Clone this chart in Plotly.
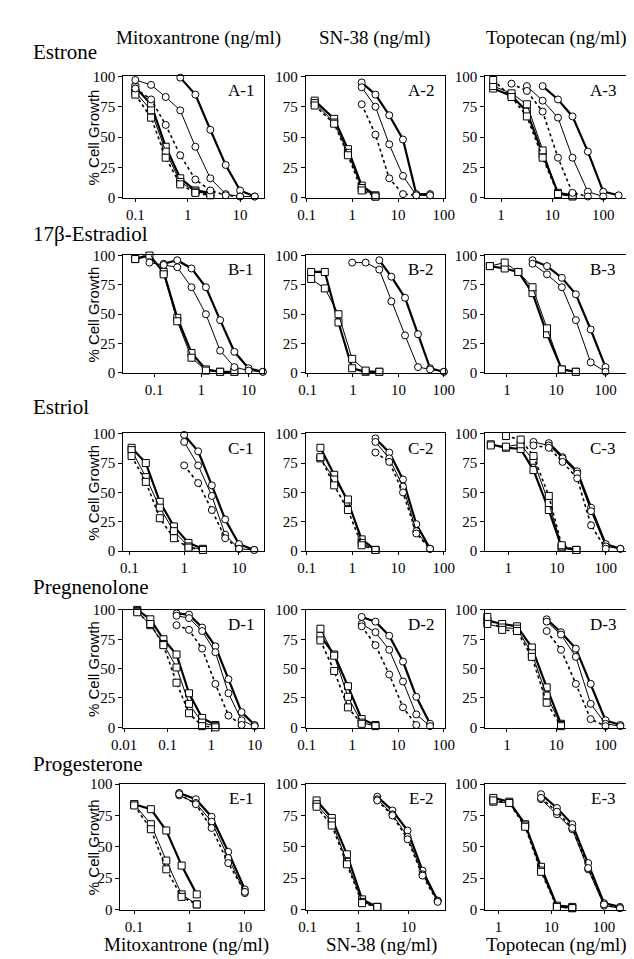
import math
import plotly.graph_objects as go

# ---------------- data (concentration, % cell growth) ----------------
# Row A: Estrone
A1_xs = [0.1, 0.2, 0.38, 0.72, 1.4, 2.7]
A1_sq1 = [91, 77, 42, 16, 6, 4]
A1_sq2 = [87, 72, 38, 13, 5, 3]
A1_sq3 = [85, 66, 33, 11, 4, 2]
A1_xc = [0.1, 0.2, 0.38, 0.72, 1.4, 2.7, 5.3, 10, 19]
A1_c1 = [None, None, None, 99, 85, 56, 27, 6, 1]
A1_c2 = [97, 93, 83, 72, 42, 16, 3, 1, 1]
A1_c3 = [90, 81, 60, 35, 15, 6, 2, 1, None]

A2_xs = [0.15, 0.4, 0.8, 1.6, 3.2]
A2_sq1 = [80, 65, 40, 10, 2]
A2_sq2 = [78, 62, 37, 8, 1]
A2_sq3 = [76, 61, 35, 6, 1]
A2_xc = [1.6, 3.2, 6.4, 12.8, 25, 50]
A2_c1 = [95, 85, 68, 48, 3, 3]
A2_c2 = [91, 75, 44, 18, 2, 2]
A2_c3 = [77, 52, 16, 3, 2, 2]

A3_xs = [0.7, 1.6, 3.2, 6.5, 13, 25]
A3_sq1 = [90, 84, 71, 36, 4, 2]
A3_sq2 = [92, 86, 77, 39, 3, 1]
A3_sq3 = [97, 83, 67, 33, 3, 2]
A3_xc = [1.6, 3.2, 6.5, 13, 25, 50, 100, 200]
A3_c1 = [None, None, 92, 81, 67, 38, 5, 2]
A3_c2 = [None, 92, 80, 66, 33, 5, 1, None]
A3_c3 = [94, 88, 71, 33, 4, 1, None, None]

# Row B: 17beta-Estradiol
B1_xs = [0.04, 0.08, 0.16, 0.31, 0.62, 1.25, 2.5, 5]
B1_sq1 = [97, 100, 86, 47, 17, 3, 1, 1]
B1_sq2 = [97, 102, 84, 44, 13, 2, 1, 1]
B1_xc = [0.08, 0.16, 0.31, 0.62, 1.25, 2.5, 5, 10, 20]
B1_c1 = [None, 93, 96, 89, 73, 45, 18, 4, 1]
B1_c2 = [94, 92, 90, 73, 50, 19, 5, 2, 1]

B2_xs = [0.12, 0.24, 0.48, 0.96, 1.9, 3.8]
B2_sq1 = [86, 86, 43, 4, 1, 1]
B2_sq2 = [80, 72, 50, 12, 2, 1]
B2_xc = [0.96, 1.9, 3.8, 7, 14, 27, 50, 100]
B2_c1 = [None, None, 96, 82, 64, 33, 4, 1]
B2_c2 = [94, 94, 88, 61, 32, 5, 3, 1]

B3_xs = [0.45, 0.9, 1.7, 3.3, 6.5, 13, 25]
B3_sq1 = [91, 89, 86, 68, 33, 3, 1]
B3_sq2 = [91, 94, 86, 73, 38, 3, 1]
B3_xc = [3.3, 6.5, 13, 25, 50, 100]
B3_c1 = [96, 91, 81, 67, 37, 5]
B3_c2 = [93, 84, 73, 45, 9, 1]

# Row C: Estriol
C1_xs = [0.11, 0.2, 0.36, 0.65, 1.2, 2.2]
C1_sq1 = [88, 75, 42, 21, 7, 2]
C1_sq2 = [86, 63, 37, 17, 4, 1]
C1_sq3 = [81, 59, 28, 11, 3, 1]
C1_xc = [1.0, 1.8, 3.2, 5.6, 10, 19]
C1_c1 = [99, 85, 56, 27, 6, 1]
C1_c2 = [93, 73, 47, 14, 2, 1]
C1_c3 = [73, 58, 35, 11, 2, None]

C2_xs = [0.2, 0.4, 0.8, 1.6, 3.2]
C2_sq1 = [88, 65, 42, 10, 1]
C2_sq2 = [79, 61, 44, 7, 1]
C2_sq3 = [80, 56, 35, 5, 1]
C2_xc = [3.2, 6.4, 12.8, 25, 50]
C2_c1 = [96, 84, 61, 23, 2]
C2_c2 = [93, 79, 55, 17, 2]
C2_c3 = [84, 76, 50, 15, 2]

C3_xs = [0.44, 0.9, 1.8, 3.3, 6.8, 12.5, 25]
C3_sq1 = [91, 88, 87, 69, 35, 3, 1]
C3_sq2 = [90, 89, 91, 77, 41, 4, 1]
C3_sq3 = [None, 98, 95, 81, 47, 5, 1]
C3_xc = [3.3, 6.8, 13, 26, 50, 100, 200]
C3_c1 = [None, 92, 80, 68, 37, 6, 2]
C3_c2 = [93, 90, 79, 66, 34, 4, 2]
C3_c3 = [90, 88, 76, 62, 22, 2, None]

# Row D: Pregnenolone
D1_xs = [0.02, 0.04, 0.08, 0.16, 0.31, 0.62, 1.25]
D1_sq1 = [100, 92, 75, 62, 29, 8, 2]
D1_sq2 = [99, 87, 71, 51, 20, 4, 1]
D1_sq3 = [98, 88, 70, 38, 12, 1, 0]
D1_xc = [0.16, 0.31, 0.62, 1.25, 2.5, 5, 10]
D1_c1 = [97, 96, 85, 69, 41, 13, 2]
D1_c2 = [95, 93, 82, 64, 29, 6, 1]
D1_c3 = [87, 83, 67, 37, 10, 2, None]

D2_xs = [0.2, 0.4, 0.8, 1.6, 3.2]
D2_sq1 = [78, 62, 35, 7, 2]
D2_sq2 = [84, 61, 26, 4, 1]
D2_sq3 = [74, 48, 17, 3, None]
D2_xc = [1.6, 3.2, 6.4, 12.8, 25, 50]
D2_c1 = [94, 90, 78, 56, 26, 3]
D2_c2 = [88, 81, 66, 39, 11, 1]
D2_c3 = [86, 70, 45, 17, 2, None]

D3_xs = [0.4, 0.8, 1.6, 3.2, 6.4, 12.5]
D3_sq1 = [91, 88, 86, 68, 34, 3]
D3_sq2 = [88, 85, 84, 63, 27, 2]
D3_sq3 = [94, 83, 82, 60, 21, 1]
D3_xc = [6.4, 12.5, 25, 50, 100, 200]
D3_c1 = [92, 81, 67, 37, 6, 2]
D3_c2 = [90, 79, 60, 20, 3, 1]
D3_c3 = [82, 66, 37, 7, 1, None]

# Row E: Progesterone
E1_xs = [0.1, 0.2, 0.38, 0.72, 1.35]
E1_sq1 = [84, 80, 63, 35, 12]
E1_sq2 = [84, 68, 39, 12, 4]
E1_sq3 = [83, 64, 32, 10, 4]
E1_xc = [0.65, 1.3, 2.5, 5, 10]
E1_c1 = [93, 88, 74, 46, 16]
E1_c2 = [91, 85, 70, 41, 13]
E1_c3 = [92, 84, 65, 37, 14]

E2_xs = [0.15, 0.3, 0.6, 1.2, 2.4]
E2_sq1 = [87, 73, 44, 8, 2]
E2_sq2 = [84, 70, 38, 6, 2]
E2_sq3 = [82, 67, 36, 5, 2]
E2_xc = [2.4, 4.8, 9.6, 19, 38]
E2_c1 = [90, 79, 63, 31, 7]
E2_c2 = [88, 76, 58, 28, 7]
E2_c3 = [87, 75, 56, 27, 6]

E3_xs = [0.8, 1.6, 3.2, 6.4, 12.8, 25]
E3_sq1 = [89, 86, 68, 34, 3, 2]
E3_sq2 = [86, 85, 67, 31, 2, 1]
E3_sq3 = [87, 85, 66, 30, 2, 1]
E3_xc = [6.4, 12.8, 25, 50, 100, 200]
E3_c1 = [92, 81, 68, 37, 5, 2]
E3_c2 = [88, 76, 64, 32, 3, 1]
E3_c3 = [89, 78, 65, 33, 4, 1]

ROW_LABELS = ["Estrone", "17\u03b2-Estradiol", "Estriol", "Pregnenolone", "Progesterone"]
COL_LABELS = ["Mitoxantrone (ng/ml)", "SN-38 (ng/ml)", "Topotecan (ng/ml)"]
Y_TICKS = [0, 25, 50, 75, 100]
X_TICKS = [0.01, 0.1, 1, 10, 100]
X_TICKTEXT = ["0.01", "0.1", "1", "10", "100"]

PANELS = [
    ("A-1", 0, 0, A1_xs, [A1_sq1, A1_sq2, A1_sq3], A1_xc, [A1_c1, A1_c2, A1_c3]),
    ("A-2", 0, 1, A2_xs, [A2_sq1, A2_sq2, A2_sq3], A2_xc, [A2_c1, A2_c2, A2_c3]),
    ("A-3", 0, 2, A3_xs, [A3_sq1, A3_sq2, A3_sq3], A3_xc, [A3_c1, A3_c2, A3_c3]),
    ("B-1", 1, 0, B1_xs, [B1_sq1, B1_sq2], B1_xc, [B1_c1, B1_c2]),
    ("B-2", 1, 1, B2_xs, [B2_sq1, B2_sq2], B2_xc, [B2_c1, B2_c2]),
    ("B-3", 1, 2, B3_xs, [B3_sq1, B3_sq2], B3_xc, [B3_c1, B3_c2]),
    ("C-1", 2, 0, C1_xs, [C1_sq1, C1_sq2, C1_sq3], C1_xc, [C1_c1, C1_c2, C1_c3]),
    ("C-2", 2, 1, C2_xs, [C2_sq1, C2_sq2, C2_sq3], C2_xc, [C2_c1, C2_c2, C2_c3]),
    ("C-3", 2, 2, C3_xs, [C3_sq1, C3_sq2, C3_sq3], C3_xc, [C3_c1, C3_c2, C3_c3]),
    ("D-1", 3, 0, D1_xs, [D1_sq1, D1_sq2, D1_sq3], D1_xc, [D1_c1, D1_c2, D1_c3]),
    ("D-2", 3, 1, D2_xs, [D2_sq1, D2_sq2, D2_sq3], D2_xc, [D2_c1, D2_c2, D2_c3]),
    ("D-3", 3, 2, D3_xs, [D3_sq1, D3_sq2, D3_sq3], D3_xc, [D3_c1, D3_c2, D3_c3]),
    ("E-1", 4, 0, E1_xs, [E1_sq1, E1_sq2, E1_sq3], E1_xc, [E1_c1, E1_c2, E1_c3]),
    ("E-2", 4, 1, E2_xs, [E2_sq1, E2_sq2, E2_sq3], E2_xc, [E2_c1, E2_c2, E2_c3]),
    ("E-3", 4, 2, E3_xs, [E3_sq1, E3_sq2, E3_sq3], E3_xc, [E3_c1, E3_c2, E3_c3]),
]

# ---------------- layout geometry (pixels) ----------------
W, H = 634, 959
COLS = [(107, 253), (296, 440), (482, 628)]
ROWS = [(62, 186), (244, 364), (425, 545), (604, 724), (781, 909)]
XRANGES = {
    "A-1": (-1.23, 1.46), "A-2": (-1.02, 2.02), "A-3": (-0.31, 2.45),
    "B-1": (-1.65, 1.33), "B-2": (-1.04, 2.02), "B-3": (-0.44, 2.42),
    "C-1": (-1.11, 1.46), "C-2": (-1.02, 2.02), "C-3": (-0.47, 2.42),
    "D-1": (-2.02, 1.22), "D-2": (-1.02, 2.02), "D-3": (-0.44, 2.42),
    "E-1": (-1.25, 1.35), "E-2": (-1.04, 1.72), "E-3": (-0.25, 2.42),
}
STYLES = [dict(width=2.2, dash="solid"), dict(width=1, dash="solid"), dict(width=1.6, dash="dot")]
SERIF = "Liberation Serif, Times New Roman, serif"
SANS = "Liberation Sans, Arial, sans-serif"


def px_x(p):
    return p / W


def px_y(p):
    return 1 - p / H


fig = go.Figure()
layout = dict(
    width=W, height=H, autosize=False,
    margin=dict(l=0, r=0, t=0, b=0),
    paper_bgcolor="white", plot_bgcolor="white",
    showlegend=False,
)
annotations = []

for i, (lab, r, c, xs, sqs, xc, cis) in enumerate(PANELS, start=1):
    xname = "x" if i == 1 else "x%d" % i
    yname = "y" if i == 1 else "y%d" % i
    lo, hi = XRANGES[lab]
    x0, x1 = COLS[c]
    if lab == "E-1":
        x0 = 104
    y0, y1 = ROWS[r]
    for sym, xv, group in (("square", xs, sqs), ("circle", xc, cis)):
        for k, yv in enumerate(group):
            st = STYLES[k]
            fig.add_trace(go.Scatter(
                x=xv, y=yv, xaxis=xname, yaxis=yname,
                mode="lines+markers", cliponaxis=False,
                line=dict(color="black", width=st["width"], dash=st["dash"]),
                marker=dict(symbol=sym, size=7, color="white",
                            line=dict(color="black", width=1)),
                hoverinfo="x+y",
            ))
    tv = [v for v in X_TICKS if lo - 1e-9 <= math.log10(v) <= hi + 1e-9]
    tt = [X_TICKTEXT[X_TICKS.index(v)] for v in tv]
    layout["xaxis" if i == 1 else "xaxis%d" % i] = dict(
        type="log", range=[lo, hi], domain=[px_x(x0), px_x(x1)],
        anchor=yname, showline=True, linecolor="black", linewidth=1, mirror=True,
        ticks="outside", ticklen=3, tickwidth=1, tickcolor="black",
        tickvals=tv, ticktext=tt, showgrid=False, zeroline=False,
        tickfont=dict(family=SERIF, size=15, color="black"),
    )
    layout["yaxis" if i == 1 else "yaxis%d" % i] = dict(
        range=[-0.3, 100.3], domain=[px_y(y1), px_y(y0)],
        anchor=xname, showline=True, linecolor="black", linewidth=1, mirror=True,
        ticks="outside", ticklen=4, tickwidth=1, tickcolor="black",
        tickvals=Y_TICKS, showgrid=False, zeroline=False,
        tickfont=dict(family=SERIF, size=15, color="black"),
    )
    annotations.append(dict(
        text=lab, xref="paper", yref="paper",
        x=px_x(x1 - 9), y=px_y(y0 + 15), xanchor="right", yanchor="middle",
        showarrow=False, font=dict(family=SERIF, size=17, color="black"),
    ))

# Column headers (top and bottom)
COL_CENTERS = [185, 367, 556]
for name, cx in zip(COL_LABELS, COL_CENTERS):
    annotations.append(dict(text=name, xref="paper", yref="paper", x=px_x(cx), y=px_y(23),
                            xanchor="center", yanchor="middle", showarrow=False,
                            font=dict(family=SERIF, size=19, color="black")))
BOTTOM_CENTERS = [173, 375, 556]
for name, cx in zip(COL_LABELS, BOTTOM_CENTERS):
    annotations.append(dict(text=name, xref="paper", yref="paper", x=px_x(cx), y=px_y(945),
                            xanchor="center", yanchor="middle", showarrow=False,
                            font=dict(family=SERIF, size=19, color="black")))

# Row labels
ROW_LABEL_Y = [38, 222, 398, 581, 761]
for name, ry in zip(ROW_LABELS, ROW_LABEL_Y):
    annotations.append(dict(text=name, xref="paper", yref="paper", x=px_x(11), y=px_y(ry),
                            xanchor="left", yanchor="middle", showarrow=False,
                            font=dict(family=SERIF, size=21, color="black")))

# y-axis titles for first column
for (y0, y1) in ROWS:
    annotations.append(dict(text="% Cell Growth", xref="paper", yref="paper",
                            x=px_x(76), y=px_y((y0 + y1) / 2), textangle=-90,
                            xanchor="center", yanchor="middle", showarrow=False,
                            font=dict(family=SANS, size=15, color="black")))

layout["annotations"] = annotations
fig.update_layout(**layout)
fig.write_html("out.html")
